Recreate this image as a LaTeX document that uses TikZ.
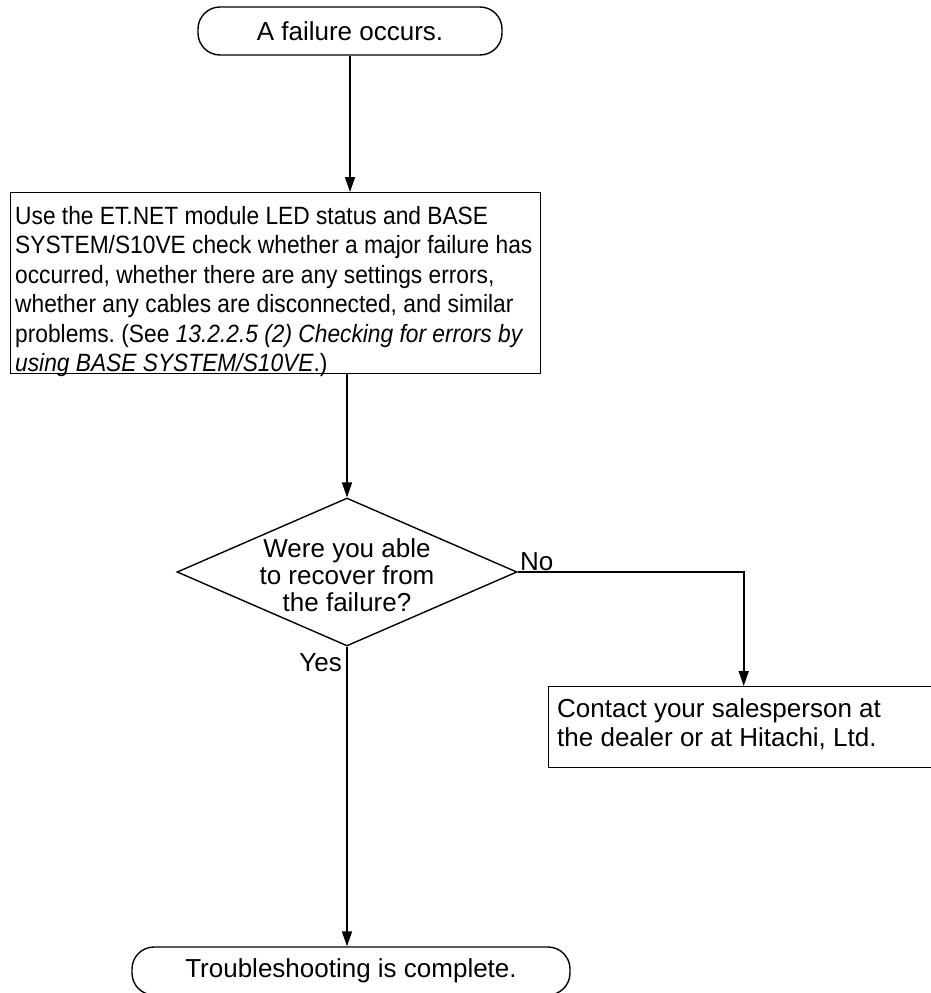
\documentclass[tikz,border=0pt]{standalone}
\usepackage{fontspec}
\setmainfont{Liberation Sans}
\newfontfamily\narrowfont[FakeStretch=0.91]{Liberation Sans}
\usetikzlibrary{shapes.geometric,arrows.meta}
\frenchspacing
\tikzset{
  base/.style={font=\fontsize{26}{29.5}\selectfont},
  term/.style={base,draw,line width=1.4pt,rounded corners=22pt,inner sep=0pt},
  plainbox/.style={draw,line width=1.4pt,inner sep=0pt},
  boxtext/.style={inner sep=0pt,align=left},
  decision/.style={draw,diamond,line width=1.4pt,inner sep=0pt},
  lbl/.style={base,inner sep=0pt},
  arr/.style={line width=1.6pt,-{Triangle[length=15pt,width=10pt]}}
}
\begin{document}
\begin{tikzpicture}[x=1pt,y=-1pt]
\useasboundingbox (0,0) rectangle (931,993);
\node[term,minimum width=304pt,minimum height=48pt] (start) at (350,31) {A failure occurs.};
\node[plainbox,anchor=north west,minimum width=530pt,minimum height=181pt] (check) at (10,192) {};
\node[boxtext,anchor=north west,font=\narrowfont\fontsize{25}{29.5}\selectfont] (checktext) at (15,206)
{Use the ET.NET module LED status and BASE\\
SYSTEM/S10VE check whether a major failure has\\
occurred, whether there are any settings errors,\\
whether any cables are disconnected, and similar\\
problems. (See \textit{13.2.2.5 (2) Checking for errors by}\\
\textit{using BASE SYSTEM/S10VE}.)};
\node[decision,minimum width=340pt,minimum height=148pt] (dec) at (347,572) {};
\node[lbl,align=center,font=\fontsize{26}{27}\selectfont] (dectext) at (347,575) {Were you able\\to recover from\\the failure?};
\node[plainbox,anchor=north west,minimum width=390pt,minimum height=81pt] (contact) at (548,686) {};
\node[boxtext,anchor=north west,font=\fontsize{26}{29}\selectfont] (contacttext) at (557,698)
{Contact your salesperson at\\the dealer or at Hitachi, Ltd.};
\node[term,minimum width=438pt,minimum height=48pt] (finish) at (351,971) {Troubleshooting is complete.};
\node[lbl,anchor=south west] (no) at (520,571) {No};
\node[lbl,anchor=east] (yes) at (342,663) {Yes};
\draw[arr] (start.south) -- (start.south |- check.north);
\draw[arr] (dec.north |- check.south) -- (dec.north);
\draw[arr] (dec.east) -| (contact.north);
\draw[arr] (dec.south) -- (dec.south |- finish.north);
\end{tikzpicture}
\end{document}
